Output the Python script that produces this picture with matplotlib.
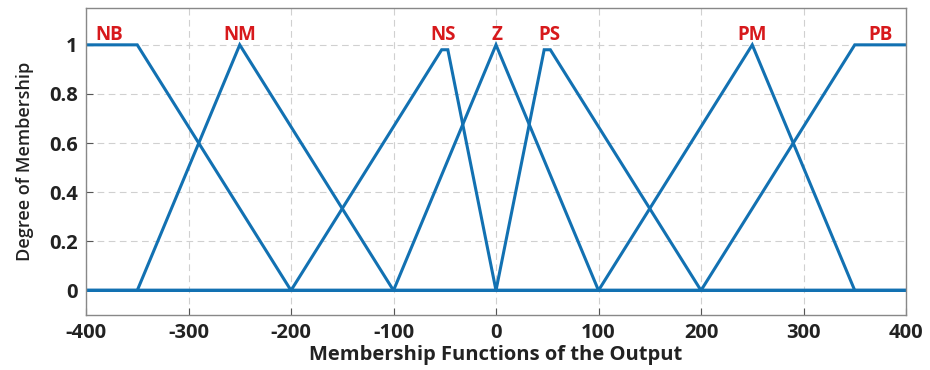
import numpy as np
import matplotlib.pyplot as plt

plt.rcParams['font.family'] = ['Open Sans', 'DejaVu Sans']
plt.rcParams['axes.unicode_minus'] = False

# breakpoints (x) and membership values (y) of each output set
names = ['NB', 'NM', 'NS', 'Z', 'PS', 'PM', 'PB']
mf_x = [
    [-400, -350, -200, 400],
    [-400, -350, -250, -100, 400],
    [-400, -200, -53, -47, 0, 400],
    [-400, -100, 0, 100, 400],
    [-400, 0, 47, 53, 200, 400],
    [-400, 100, 250, 350, 400],
    [-400, 200, 350, 400],
]
mf_y = [
    [1, 1, 0, 0],
    [0, 0, 1, 0, 0],
    [0, 0, 0.98, 0.98, 0, 0],
    [0, 0, 1, 0, 0],
    [0, 0, 0.98, 0.98, 0, 0],
    [0, 0, 1, 0, 0],
    [0, 0, 1, 1],
]
label_x = [-377, -250, -52, 1, 52, 250, 375]
label_y = 1.02

fig = plt.figure(figsize=(9.3, 3.7), dpi=100)
ax = fig.add_axes([86 / 930, 55 / 370, 820 / 930, 307 / 370])

for xs, ys in zip(mf_x, mf_y):
    ax.plot(xs, ys, color='#1271B2', linewidth=2.2, solid_joinstyle='miter')

for name, lx in zip(names, label_x):
    ax.text(lx, label_y, name, color='#D7191C', fontsize=13.5, fontweight='bold',
            ha='center', va='baseline')

ax.set_xlim(-400, 400)
ax.set_ylim(-0.1, 1.15)
ax.set_xticks(np.arange(-400, 401, 100))
ax.set_yticks([0, 0.2, 0.4, 0.6, 0.8, 1])
ax.set_yticklabels(['0', '0.2', '0.4', '0.6', '0.8', '1'])
ax.tick_params(direction='in', length=5, color='#555555', labelsize=14.5, pad=6)
for lab in ax.get_xticklabels() + ax.get_yticklabels():
    lab.set_fontweight('bold')
    lab.set_color('#222222')
ax.grid(True, linestyle=(0, (6, 4)), color='#d0d0d0', linewidth=0.8)
for sp in ax.spines.values():
    sp.set_color('#888888')
    sp.set_linewidth(1.0)

ax.set_xlabel('Membership Functions of the Output', fontsize=14.5, fontweight='bold',
              color='#222222', labelpad=1)
ax.set_ylabel('Degree of Membership', fontsize=13, color='#222222', labelpad=11,
              fontweight='semibold')

fig.savefig('out.png', dpi=100)
